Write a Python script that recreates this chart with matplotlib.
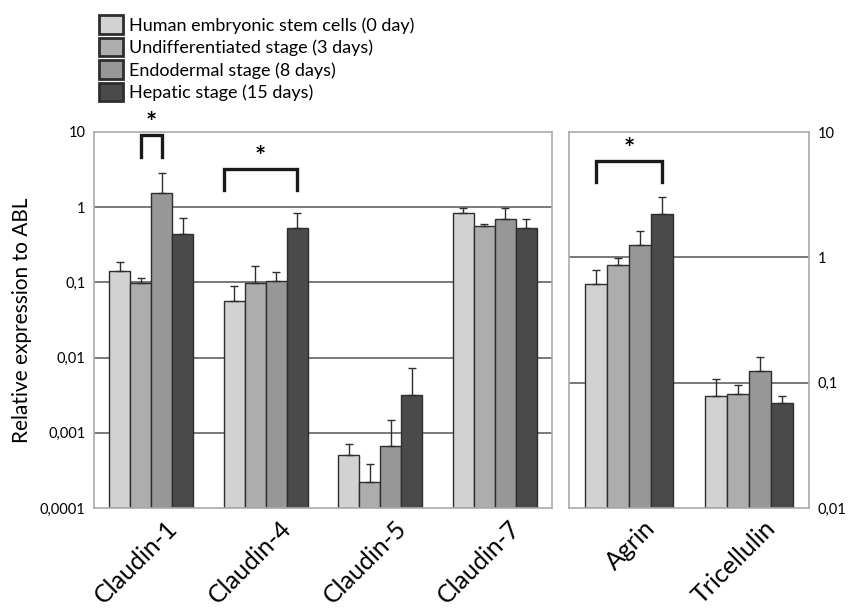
import matplotlib
matplotlib.use("Agg")
import matplotlib.pyplot as plt
import matplotlib.transforms as mtransforms
from matplotlib.patches import Patch
import numpy as np

plt.rcParams['font.family'] = ['Lato', 'DejaVu Sans']

# ---------------- data
stages = ['Human embryonic stem cells (0 day)', 'Undifferentiated stage (3 days)',
          'Endodermal stage (8 days)', 'Hepatic stage (15 days)']
colors = ['#d2d2d2', '#adadad', '#979797', '#4a4a4a']

genes_left = ['Claudin-1', 'Claudin-4', 'Claudin-5', 'Claudin-7']
# one list per stage, values for each gene
left_vals = [
    [0.14, 0.056, 0.00051, 0.84],
    [0.097, 0.097, 0.00022, 0.57],
    [1.54, 0.105, 0.00066, 0.69],
    [0.44, 0.525, 0.00315, 0.525],
]
left_err_top = [
    [0.187, 0.089, 0.00071, 0.99],
    [0.115, 0.163, 0.00039, 0.605],
    [2.87, 0.136, 0.0015, 0.99],
    [0.72, 0.85, 0.0072, 0.70],
]

genes_right = ['Agrin', 'Tricellulin']
right_vals = [
    [0.616, 0.0787],
    [0.863, 0.0812],
    [1.25, 0.124],
    [2.22, 0.069],
]
right_err_top = [
    [0.797, 0.106],
    [0.99, 0.0957],
    [1.62, 0.16],
    [3.04, 0.0787],
]

left_ticks = [0.0001, 0.001, 0.01, 0.1, 1, 10]
left_ticklabels = ['0,0001', '0,001', '0,01', '0,1', '1', '10']
right_ticks = [0.01, 0.1, 1, 10]
right_ticklabels = ['0,01', '0,1', '1', '10']

bw = 0.183
offsets = [-1.5 * bw, -0.5 * bw, 0.5 * bw, 1.5 * bw]

fig = plt.figure(figsize=(8.53, 6.11), dpi=100)
ax1 = fig.add_axes([94 / 853, 1 - 508 / 611, 458 / 853, 376 / 611])
ax2 = fig.add_axes([569 / 853, 1 - 508 / 611, 240 / 853, 376 / 611])


def draw_panel(ax, genes, vals, errs, ymin, ticks, ticklabels):
    x = np.arange(len(genes))
    ax.set_yscale('log')
    ax.set_ylim(ymin, 10)
    ax.set_xlim(-0.5, len(genes) - 0.5)
    # horizontal decade lines behind the bars
    for t in ticks[1:-1]:
        ax.axhline(t, color='#555555', lw=1.1, zorder=0)
    for i in range(4):
        v = np.array(vals[i])
        up = np.array(errs[i]) - v
        ax.bar(x + offsets[i], v - ymin, bottom=ymin, width=bw, color=colors[i],
               edgecolor='#2e2e2e', linewidth=1.0, zorder=2)
        ax.errorbar(x + offsets[i], v, yerr=[np.zeros_like(v), up], fmt='none',
                    ecolor='#2e2e2e', elinewidth=1.0, capsize=3, capthick=1.0, zorder=3)
    for s in ax.spines.values():
        s.set_color('#aaaaaa')
        s.set_linewidth(1.2)
    ax.set_yticks(ticks)
    ax.set_yticklabels(ticklabels)
    ax.minorticks_off()
    ax.tick_params(axis='y', length=0, labelsize=10.5, pad=6)
    ax.set_xticks(x)
    ax.set_xticklabels(genes, rotation=45, ha='right', va='top',
                       rotation_mode='anchor', fontsize=18)
    ax.tick_params(axis='x', length=0, pad=6)
    shift = mtransforms.ScaledTranslation(14 / 100, 0, fig.dpi_scale_trans)
    for lab in ax.get_xticklabels():
        lab.set_transform(lab.get_transform() + shift)


draw_panel(ax1, genes_left, left_vals, left_err_top, 0.0001, left_ticks, left_ticklabels)
draw_panel(ax2, genes_right, right_vals, right_err_top, 0.01, right_ticks, right_ticklabels)
ax2.yaxis.tick_right()
ax2.tick_params(axis='y', length=0, pad=6)

ax1.set_ylabel('Relative expression to ABL', fontsize=15, labelpad=6)


def bracket(ax, x0, x1, ytop, ybot):
    ax.plot([x0, x0, x1, x1], [ybot, ytop, ytop, ybot], color='#1a1a1a', lw=2.4,
            solid_joinstyle='miter', clip_on=False, zorder=5)
    ax.text((x0 + x1) / 2, ytop * 1.0, '*', ha='center', va='bottom', fontsize=19,
            fontweight='bold', clip_on=False)


bracket(ax1, 0 + offsets[1], 0 + offsets[2], 9.1, 4.6)
bracket(ax1, 1 - 2 * bw, 1 + offsets[3], 3.2, 1.69)
bracket(ax2, 0 + offsets[0], 0 + offsets[3], 5.9, 4.0)

handles = [Patch(facecolor=c, edgecolor='#2e2e2e', linewidth=2.0) for c in colors]
fig.legend(handles, stages, loc='upper left', bbox_to_anchor=(92 / 853, 1 - 8 / 611),
           frameon=False, fontsize=13, handlelength=1.3, handleheight=1.2,
           handletextpad=0.35, labelspacing=0.22, borderaxespad=0)

fig.savefig('out.png', dpi=100)
